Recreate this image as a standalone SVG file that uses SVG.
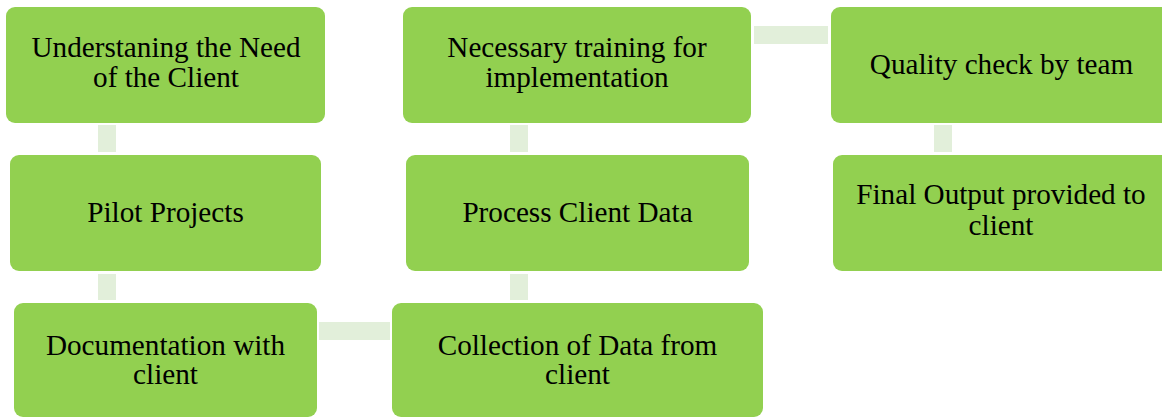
<svg xmlns="http://www.w3.org/2000/svg" width="1162" height="417" viewBox="0 0 1162 417">
<style>
.box{fill:#92D050;}
.con{fill:#E2EFDA;}
text{font-family:"Liberation Serif","Times New Roman",serif;font-size:29.2px;fill:#000;text-anchor:middle;}
</style>
<rect width="1162" height="417" fill="#fff"/>
<g id="connectors">
<rect class="con" x="98" y="125" width="18" height="27"/>
<rect class="con" x="98" y="274" width="18" height="26"/>
<rect class="con" x="319" y="322" width="71" height="18"/>
<rect class="con" x="510" y="274" width="18" height="26"/>
<rect class="con" x="510" y="125" width="18" height="27"/>
<rect class="con" x="754" y="26" width="74" height="18"/>
<rect class="con" x="934" y="125" width="18" height="27"/>
</g>
<g id="n1"><rect class="box" x="6" y="7" width="319" height="116" rx="9"/>
<text x="166" y="57">Understaning the Need</text><text x="166" y="87">of the Client</text></g>
<g id="n2"><rect class="box" x="10" y="155" width="311" height="116" rx="9"/>
<text x="165.5" y="222">Pilot Projects</text></g>
<g id="n3"><rect class="box" x="14" y="303" width="303" height="114" rx="9"/>
<text x="165.5" y="355">Documentation with</text><text x="165.5" y="384">client</text></g>
<g id="n4"><rect class="box" x="392" y="303" width="371" height="114" rx="9"/>
<text x="577.5" y="355">Collection of Data from</text><text x="577.5" y="384">client</text></g>
<g id="n5"><rect class="box" x="406" y="155" width="343" height="116" rx="9"/>
<text x="577.5" y="222">Process Client Data</text></g>
<g id="n6"><rect class="box" x="403" y="7" width="348" height="116" rx="9"/>
<text x="577" y="57">Necessary training for</text><text x="577" y="87">implementation</text></g>
<g id="n7"><rect class="box" x="831" y="7" width="342" height="116" rx="9"/>
<text x="1001.5" y="74">Quality check by team</text></g>
<g id="n8"><rect class="box" x="833" y="155" width="340" height="116" rx="9"/>
<text x="1001" y="204">Final Output provided to</text><text x="1001" y="235">client</text></g>
</svg>
